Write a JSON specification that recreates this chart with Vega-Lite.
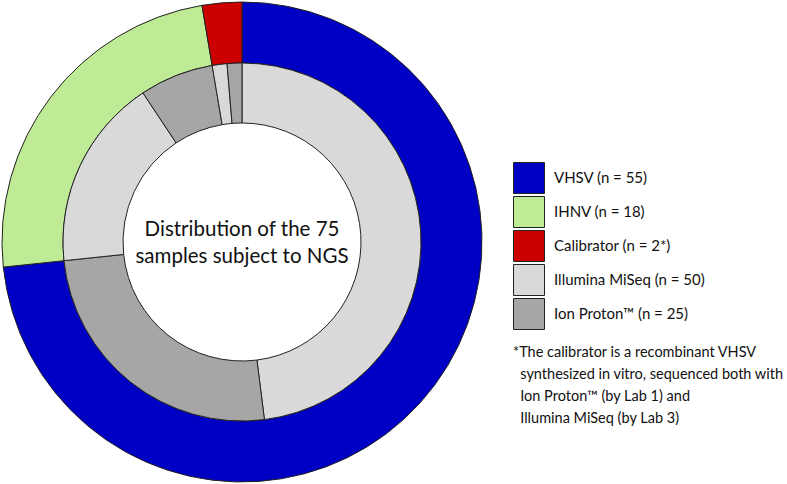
{
  "$schema": "https://vega.github.io/schema/vega-lite/v6.json",
  "width": 482,
  "height": 482,
  "padding": {"left": 0, "top": 0, "right": 0, "bottom": 0},
  "background": "white",
  "config": {"view": {"stroke": null}, "font": "Lato"},
  "datasets": {
    "outer": [
      {"group": "VHSV (n = 55)", "n": 55, "ord": 1},
      {"group": "IHNV (n = 18)", "n": 18, "ord": 2},
      {"group": "Calibrator (n = 2*)", "n": 2, "ord": 3}
    ],
    "inner": [
      {"virus": "VHSV", "group": "Illumina MiSeq (n = 50)", "n": 36, "ord": 1},
      {"virus": "VHSV", "group": "Ion Proton™ (n = 25)", "n": 19, "ord": 2},
      {"virus": "IHNV", "group": "Illumina MiSeq (n = 50)", "n": 13, "ord": 3},
      {"virus": "IHNV", "group": "Ion Proton™ (n = 25)", "n": 5, "ord": 4},
      {"virus": "Calibrator", "group": "Illumina MiSeq (n = 50)", "n": 1, "ord": 5},
      {"virus": "Calibrator", "group": "Ion Proton™ (n = 25)", "n": 1, "ord": 6}
    ],
    "center": [{"k": 1}]
  },
  "title": {
    "text": ["*The calibrator is a recombinant VHSV", "\u200b\u2002synthesized in vitro, sequenced both with", "\u200b\u2002Ion Proton™ (by Lab 1) and", "\u200b\u2002Illumina MiSeq (by Lab 3)"],
    "orient": "bottom",
    "anchor": "start",
    "frame": "group",
    "align": "left",
    "baseline": "top",
    "offset": 0,
    "dx": 512,
    "dy": -138,
    "fontSize": 14.5,
    "fontWeight": "normal",
    "lineHeight": 22,
    "color": "#111",
    "font": "Lato"
  },
  "layer": [
    {
      "data": {"name": "outer"},
      "mark": {"type": "arc", "radius": 240, "radius2": 179, "stroke": "#222", "strokeWidth": 1},
      "encoding": {
        "theta": {"field": "n", "type": "quantitative", "stack": true, "scale": {"nice": false}},
        "order": {"field": "ord", "type": "quantitative"},
        "color": {
          "field": "group",
          "type": "nominal",
          "scale": {
            "domain": ["VHSV (n = 55)", "IHNV (n = 18)", "Calibrator (n = 2*)", "Illumina MiSeq (n = 50)", "Ion Proton™ (n = 25)"],
            "range": ["#0000C4", "#BFEB96", "#CC0000", "#D9D9D9", "#A6A6A6"]
          },
          "legend": {
            "title": null,
            "orient": "none",
            "legendX": 512,
            "legendY": 161,
            "symbolType": "square",
            "symbolSize": 961,
            "symbolStrokeColor": "#333",
            "symbolStrokeWidth": 1,
            "symbolOpacity": 1,
            "rowPadding": -3.6,
            "labelOffset": 9,
            "labelFontSize": 15,
            "labelFont": "Lato",
            "labelColor": "#111",
            "padding": 0
          }
        }
      }
    },
    {
      "data": {"name": "inner"},
      "mark": {"type": "arc", "radius": 179, "radius2": 119, "stroke": "#222", "strokeWidth": 1},
      "encoding": {
        "theta": {"field": "n", "type": "quantitative", "stack": true, "scale": {"nice": false}},
        "order": {"field": "ord", "type": "quantitative"},
        "color": {"field": "group", "type": "nominal"}
      }
    },
    {
      "data": {"name": "center"},
      "mark": {"type": "text", "text": ["Distribution of the 75", "samples subject to NGS"], "fontSize": 20.5, "lineHeight": 27, "align": "center", "baseline": "middle", "dy": -12, "color": "#111", "font": "Lato"},
      "encoding": {}
    }
  ]
}
